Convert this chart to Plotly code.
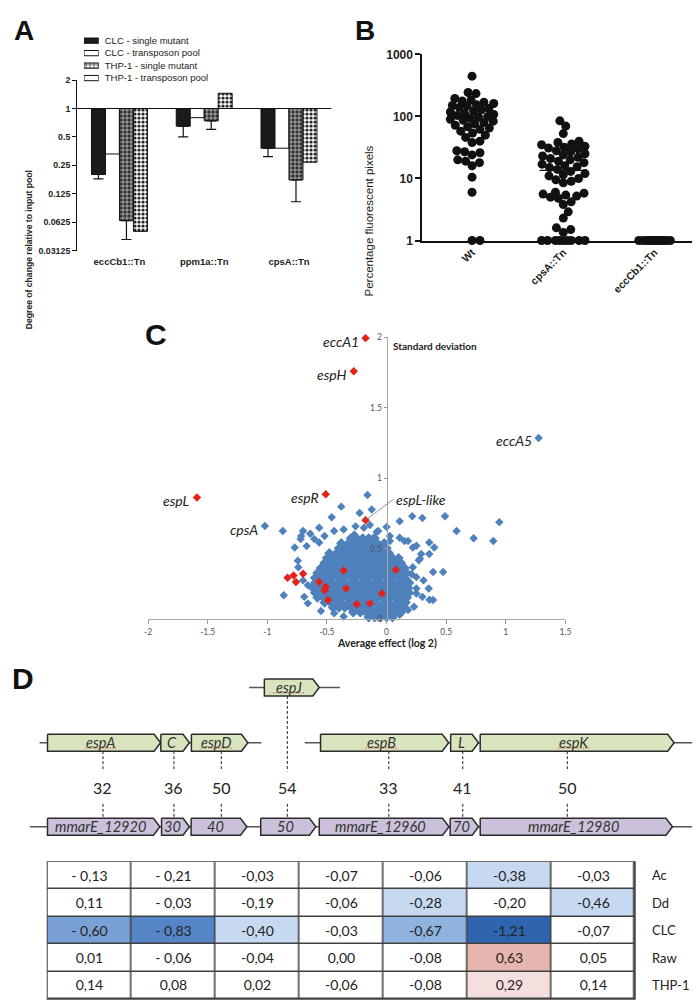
import math
import plotly.graph_objects as go

W, H = 700, 1002
def fx(px): return px / W
def fy(py): return 1 - py / H

ARIAL = "Liberation Sans, Arial, sans-serif"
CAL = "Lato, Open Sans, sans-serif"

# ---------------- Panel A data ----------------
a_categories = ["eccCb1::Tn", "ppm1a::Tn", "cpsA::Tn"]
a_series = ["CLC - single mutant", "CLC - transposon pool",
            "THP-1 - single mutant", "THP-1 - transposon pool"]
clc_single = [0.20, 0.65, 0.38]
clc_single_low = [0.18, 0.50, 0.31]
clc_pool = [0.33, 0.80, 0.38]
thp_single = [0.065, 0.74, 0.175]
thp_single_low = [0.041, 0.60, 0.103]
thp_pool = [0.05, 1.45, 0.27]
a_ticks = [0.03125, 0.0625, 0.125, 0.25, 0.5, 1, 2]
a_ticktext = ["0.03125", "0.0625", "0.125", "0.25", "0.5", "1", "2"]

# ---------------- Panel B data ----------------
b_categories = ["Wt", "cpsA::Tn", "eccCb1::Tn"]
wt_vals = [447, 243, 234, 195, 185, 178, 170, 162, 155, 150, 148, 140, 135, 128, 122,
           118, 112, 108, 104, 100, 97, 94, 90, 87, 84, 80, 76, 72, 68, 65, 62, 58, 54,
           50, 46, 40, 38, 28, 27, 26, 24, 20, 19, 18, 16, 10.5, 6, 1, 1]
cps_vals = [85, 70, 53, 40, 38, 36, 35, 33, 32, 31, 30, 28, 27, 25, 24, 23, 22, 21, 20,
            19, 18, 17, 16, 15.5, 15, 14, 13, 12, 11.5, 11, 10, 9.5, 9, 8.5,
            6, 5.8, 5.6, 5.4, 5.2, 5, 4.8, 4.2, 3.8, 2.9, 2.3, 1.6, 1.5, 1.35,
            1, 1, 1, 1, 1, 1, 1, 1, 1]
ecc_vals = [1] * 14
b_means = [100, 13.5]
b_ticks = [1, 10, 100, 1000]

# ---------------- Panel C data ----------------
c_xticks = [-2, -1.5, -1, -0.5, 0, 0.5, 1, 1.5]
c_yticks = [0, 0.5, 1, 1.5, 2]
# dense core of the cloud, read row by row (y, x values)
blue_rows = [
    (0.015, [-0.15, -0.10, -0.05, 0.00, 0.05]),
    (0.05, [-0.28, -0.22, -0.17, -0.12, -0.08, -0.02, 0.03, 0.07, 0.12]),
    (0.085, [-0.45, -0.40, -0.35, -0.30, -0.25, -0.20, -0.15, -0.10, -0.05, 0.00, 0.05, 0.10, 0.15]),
    (0.12, [-0.52, -0.47, -0.43, -0.38, -0.32, -0.28, -0.22, -0.18, -0.12, -0.08, -0.02, 0.02, 0.08, 0.12, 0.16]),
    (0.155, [-0.58, -0.53, -0.48, -0.43, -0.38, -0.33, -0.28, -0.23, -0.18, -0.13, -0.08, -0.03, 0.02, 0.07, 0.12, 0.17]),
    (0.19, [-0.60, -0.55, -0.50, -0.46, -0.40, -0.36, -0.30, -0.26, -0.20, -0.16, -0.10, -0.06, 0.00, 0.04, 0.10, 0.14, 0.19]),
    (0.225, [-0.62, -0.57, -0.52, -0.47, -0.42, -0.37, -0.32, -0.27, -0.22, -0.17, -0.12, -0.07, -0.02, 0.03, 0.08, 0.13, 0.18]),
    (0.26, [-0.60, -0.55, -0.50, -0.46, -0.40, -0.36, -0.30, -0.26, -0.20, -0.16, -0.10, -0.06, 0.00, 0.04, 0.10, 0.14, 0.19]),
    (0.295, [-0.60, -0.55, -0.50, -0.45, -0.40, -0.35, -0.30, -0.25, -0.20, -0.15, -0.10, -0.05, 0.00, 0.05, 0.10, 0.15]),
    (0.33, [-0.58, -0.52, -0.48, -0.42, -0.38, -0.32, -0.28, -0.22, -0.18, -0.12, -0.08, -0.02, 0.02, 0.08, 0.12, 0.17]),
    (0.365, [-0.55, -0.50, -0.45, -0.40, -0.35, -0.30, -0.25, -0.20, -0.15, -0.10, -0.05, 0.00, 0.05, 0.10, 0.15]),
    (0.40, [-0.52, -0.48, -0.42, -0.38, -0.32, -0.28, -0.22, -0.18, -0.12, -0.08, -0.02, 0.02, 0.08, 0.12]),
    (0.435, [-0.50, -0.45, -0.40, -0.35, -0.30, -0.25, -0.20, -0.15, -0.10, -0.05, 0.00, 0.05, 0.10]),
    (0.47, [-0.48, -0.42, -0.38, -0.32, -0.28, -0.22, -0.18, -0.12, -0.08, -0.02, 0.02]),
    (0.505, [-0.40, -0.35, -0.30, -0.25, -0.20, -0.15, -0.10, -0.05, 0.00]),
    (0.54, [-0.38, -0.32, -0.28, -0.22, -0.18, -0.12, -0.08, -0.02]),
    (0.575, [-0.30, -0.25, -0.20, -0.15, -0.10]),
]
blue_fringe = [
    (-0.87, 0.627), (-0.16, 0.883), (-0.38, 0.80), (-0.124, 0.78), (-0.46, 0.725), (-0.226, 0.755),
    (0.215, 0.732), (0.49, 0.732), (0.945, 0.69), (0.587, 0.627), (0.73, 0.576), (0.895, 0.557),
    (0.358, 0.545), (0.29, 0.464), (0.358, 0.464), (0.474, 0.336), (0.39, 0.336), (0.353, 0.219),
    (0.39, 0.138), (0.027, 0.592), (0.0, 0.655), (-0.565, 0.65), (-0.64, 0.608), (-0.716, 0.592),
    (-0.862, 0.172), (-0.744, 0.417), (-0.70, 0.627), (-0.77, 0.51), (-0.72, 0.57), (-0.67, 0.52),
    (-0.606, 0.57), (-0.565, 0.545), (-0.52, 0.592), (-0.44, 0.627), (-0.36, 0.638), (-0.27, 0.603),
    (-0.19, 0.65), (-0.11, 0.58), (-0.07, 0.627), (0.028, 0.557), (0.11, 0.58), (0.18, 0.557),
    (0.25, 0.522), (0.30, 0.72), (0.22, 0.37), (0.28, 0.43), (0.25, 0.30), (0.25, 0.184),
    (0.18, 0.067), (-0.69, 0.16), (-0.66, 0.114), (-0.70, 0.277), (-0.66, 0.243), (-0.74, 0.37),
    (-0.55, 0.06), (-0.44, 0.044), (-0.36, 0.021), (0.11, 0.033), (0.11, 0.697), (0.15, 0.557),
    (0.22, 0.51), (0.27, 0.42), (0.21, 0.32), (0.31, 0.277), (0.25, 0.22), (0.30, 0.16),
    (0.23, 0.09), (0.36, 0.14), (0.40, 0.51), (-0.14, 0.67), (-0.083, 0.62), (-0.26, 0.66),
]
red_x = [-0.83, -0.78, -0.76, -0.70, -0.565, -0.51, -0.52, -0.49, -0.36, -0.34, -0.25, -0.14, -0.04, 0.077]
red_y = [0.296, 0.312, 0.266, 0.324, 0.266, 0.231, 0.207, 0.138, 0.347, 0.219, 0.107, 0.114, 0.184, 0.352]
named_text = ["eccA1", "espH", "espL", "espR", "espL-like", "cpsA", "eccA5"]
named_x = [-0.176, -0.275, -1.59, -0.51, -0.176, -1.02, 1.275]
named_y = [1.995, 1.76, 0.865, 0.888, 0.704, 0.662, 1.287]
named_red = [True, True, True, True, True, False, False]

# ---------------- Panel D data ----------------
contig_row = ["J", "top", "top", "bottom"]
contig_start = [240.7, 28, 297, 18]
contig_end = [332.7, 253, 697, 693]
gene_name = ["espJ", "espA", "C", "espD", "espB", "L", "espK",
             "mmarE_12920", "30", "40", "50", "mmarE_12960", "70", "mmarE_12980"]
gene_row = ["J", "top", "top", "top", "top", "top", "top",
            "bottom", "bottom", "bottom", "bottom", "bottom", "bottom", "bottom"]
gene_start = [256, 36, 151, 182, 313, 445, 475, 36, 151.7, 181.7, 252.3, 311.7, 444.5, 475]
gene_end = [311.7, 150.7, 180, 239.3, 443, 473.3, 671.7, 150, 180, 238.3, 308.3, 443.3, 473.3, 670]
spellcheck_marked = ["espJ", "espA", "espD", "espB", "espK"]
count_values = [32, 36, 50, 54, 33, 41, 50]
count_pos = [92.3, 164.3, 212.3, 279.3, 382.3, 457.3, 563.3]
count_from = ["top", "top", "top", "J", "top", "top", "top"]

table_rows = ["Ac", "Dd", "CLC", "Raw", "THP-1"]
table_text = [
    ["- 0,13", "- 0,21", "-0,03", "-0,07", "-0,06", "-0,38", "-0,03"],
    ["0,11", "- 0,03", "-0,19", "-0,06", "-0,28", "-0,20", "-0,46"],
    ["- 0,60", "- 0,83", "-0,40", "-0,03", "-0,67", "-1,21", "-0,07"],
    ["0,01", "- 0,06", "-0,04", "0,00", "-0,08", "0,63", "0,05"],
    ["0,14", "0,08", "0,02", "-0,06", "-0,08", "0,29", "0,14"],
]
table_shade = [
    [0, 0, 0, 0, 0, 1, 0],
    [0, 0, 0, 0, 1, 0, 1],
    [3, 4, 1, 0, 2, 5, 0],
    [0, 0, 0, 0, 0, 6, 0],
    [0, 0, 0, 0, 0, 7, 0],
]

fig = go.Figure()

# ================= Panel A =================
a_styles = [
    dict(color="#1b1b1b", pshape="", fg="#1b1b1b", bg="#1b1b1b", sol=0.3),
    dict(color="white", pshape="", fg="white", bg="white", sol=0.3),
    dict(color="#2a2a2a", pshape="+", fg="#cfcfcf", bg="#2a2a2a", sol=0.35),
    dict(color="white", pshape=".", fg="#1e1e1e", bg="white", sol=0.5),
]
a_vals = [clc_single, clc_pool, thp_single, thp_pool]
a_lows = [clc_single_low, None, thp_single_low, None]
for name, vals, low, st in zip(a_series, a_vals, a_lows, a_styles):
    err = None
    if low is not None:
        err = dict(type="data", symmetric=False, array=[0] * len(vals),
                   arrayminus=[v - l for v, l in zip(vals, low)],
                   color="#111", thickness=1.2, width=5)
    marker = dict(color=st["color"], line=dict(color="#111", width=1))
    if st["pshape"]:
        marker["pattern"] = dict(shape=st["pshape"], fgcolor=st["fg"], bgcolor=st["bg"],
                                 size=4, solidity=st["sol"], fillmode="replace")
    fig.add_trace(go.Bar(x=a_categories, y=[v - 1 for v in vals], base=1, name=name,
                         marker=marker, error_y=err, xaxis="x", yaxis="y",
                         showlegend=False, hoverinfo="skip"))

# legend as a tiny bar axis
fig.add_trace(go.Bar(
    y=a_series, x=[1] * len(a_series), orientation="h", xaxis="x2", yaxis="y2", width=0.42,
    marker=dict(color=[s["color"] for s in a_styles], line=dict(color="#111", width=1),
                pattern=dict(shape=[s["pshape"] for s in a_styles],
                             fgcolor=[s["fg"] for s in a_styles],
                             bgcolor=[s["bg"] for s in a_styles],
                             solidity=[s["sol"] for s in a_styles],
                             size=4, fillmode="replace")),
    showlegend=False, hoverinfo="skip"))

# ================= Panel B =================
PX_X = (700 - 416) / (2.52 + 0.548)
PX_DEC = (228.7 - 40) / 3.0

def swarm(values, d=8.0, maxw=22.0):
    order = sorted(range(len(values)), key=lambda i: values[i])
    cand = [0.0]
    k = 1
    while k * 0.5 <= maxw:
        cand += [k * 0.5, -k * 0.5]
        k += 1
    placed = []
    offs = [0.0] * len(values)
    for i in order:
        ypx = math.log10(values[i]) * PX_DEC
        chosen, best_c, best_md = None, 0.0, -1
        for c in cand:
            md = min([math.hypot(c - px, ypx - py) for px, py in placed] or [1e9])
            if md >= d:
                chosen = c
                break
            if md > best_md:
                best_md, best_c = md, c
        if chosen is None:
            chosen = best_c
        placed.append((chosen, ypx))
        offs[i] = chosen / PX_X
    return offs

for gi, (vals, mw) in enumerate([(wt_vals, 22), (cps_vals, 22), (ecc_vals, 18)]):
    offs = swarm(vals, maxw=mw)
    fig.add_trace(go.Scatter(x=[gi + o for o in offs], y=vals, mode="markers",
                             marker=dict(size=9, color="#111"), xaxis="x3", yaxis="y3",
                             cliponaxis=False, showlegend=False, hoverinfo="skip"))
for gi, m in enumerate(b_means):
    fig.add_trace(go.Scatter(x=[gi - 0.26, gi + 0.26], y=[m, m], mode="lines",
                             line=dict(color="#111", width=1.2), xaxis="x3", yaxis="y3",
                             showlegend=False, hoverinfo="skip"))

# ================= Panel C =================
BLUE = "#4f81bd"
RED = "#e2231a"
cx, cy = [], []
for yv, xs in blue_rows:
    for xv in xs:
        cx.append(xv)
        cy.append(yv)
fig.add_trace(go.Scatter(x=cx, y=cy, mode="markers", xaxis="x4", yaxis="y4",
                         marker=dict(symbol="diamond", size=8, color=BLUE),
                         cliponaxis=False, showlegend=False, hoverinfo="skip"))
bx = [p[0] for p in blue_fringe] + [xv for xv, r in zip(named_x, named_red) if not r]
by = [p[1] for p in blue_fringe] + [yv for yv, r in zip(named_y, named_red) if not r]
fig.add_trace(go.Scatter(x=bx, y=by, mode="markers", xaxis="x4", yaxis="y4",
                         marker=dict(symbol="diamond", size=6.5, color=BLUE),
                         cliponaxis=False, showlegend=False, hoverinfo="skip"))
rx = red_x + [xv for xv, r in zip(named_x, named_red) if r]
ry = red_y + [yv for yv, r in zip(named_y, named_red) if r]
fig.add_trace(go.Scatter(x=rx, y=ry, mode="markers", xaxis="x4", yaxis="y4",
                         marker=dict(symbol="diamond", size=6.5, color=RED),
                         cliponaxis=False, showlegend=False, hoverinfo="skip"))

# ================= Panel D: gene map =================
ROW_Y = {"J": 682, "top": 738, "bottom": 823.3}
HALF = 8.6
TIP = 6.5
FILL = {"J": "#d7e4bd", "top": "#d7e4bd", "bottom": "#ccc1da"}

for r, s, e in zip(contig_row, contig_start, contig_end):
    fig.add_trace(go.Scatter(x=[s, e], y=[ROW_Y[r], ROW_Y[r]], mode="lines",
                             line=dict(color="#555", width=1.5), xaxis="x5", yaxis="y5",
                             showlegend=False, hoverinfo="skip"))
for n, r, s, e in zip(gene_name, gene_row, gene_start, gene_end):
    yc = ROW_Y[r]
    fig.add_trace(go.Scatter(
        x=[s, e - TIP, e, e - TIP, s, s],
        y=[yc - HALF, yc - HALF, yc, yc + HALF, yc + HALF, yc - HALF],
        mode="lines", fill="toself", fillcolor=FILL[r],
        line=dict(color="#2b2b2b", width=1.5), xaxis="x5", yaxis="y5",
        showlegend=False, hoverinfo="skip"))
    if n in spellcheck_marked:
        cxm = (s + e - TIP) / 2
        half_w = 4.0 * len(n)
        fig.add_trace(go.Scatter(x=[cxm - half_w, cxm + half_w], y=[yc + 5.5, yc + 5.5],
                                 mode="lines", line=dict(color="#e03020", width=1, dash="1px,1.5px"),
                                 xaxis="x5", yaxis="y5", showlegend=False, hoverinfo="skip"))
for v, p, f in zip(count_values, count_pos, count_from):
    for y0, y1 in [(ROW_Y[f] + HALF, 767), (800, ROW_Y["bottom"] - HALF)]:
        fig.add_trace(go.Scatter(x=[p, p], y=[y0, y1], mode="lines",
                                 line=dict(color="#222", width=1, dash="3px,2px"),
                                 xaxis="x5", yaxis="y5", showlegend=False, hoverinfo="skip"))

# ================= Panel D: table =================
shade_colors = ["#ffffff", "#c6d9f1", "#8fb2df", "#79a1d6", "#5585c6", "#2f64ae", "#e6b5af", "#f4dfde"]
nsh = len(shade_colors)
cs = []
for i, c in enumerate(shade_colors):
    cs += [[i / nsh, c], [(i + 1) / nsh, c]]
fig.add_trace(go.Heatmap(
    x=list(range(len(table_text[0]))), y=table_rows, z=table_shade, text=table_text,
    texttemplate="%{text}", textfont=dict(size=14, family=CAL, color="#222"),
    colorscale=cs, zmin=-0.5, zmax=nsh - 0.5, showscale=False, xgap=1.5, ygap=1.5,
    xaxis="x6", yaxis="y6", hoverinfo="skip"))

# ================= annotations =================
ann = []
def letter(t, x, y, size):
    ann.append(dict(text=t, x=fx(x), y=fy(y), xref="paper", yref="paper", showarrow=False,
                    xanchor="center", yanchor="middle", borderpad=0,
                    font=dict(family=ARIAL, size=size, color="#111", weight="bold")))
letter("A", 12, 16, 28)
letter("B", 358, 16, 28)
letter("C", 146, 324, 30)
letter("D", 11, 673, 30)

ann.append(dict(text="Degree of change relative to input pool", x=fx(10), y=fy(155),
                xref="paper", yref="paper", showarrow=False, textangle=-90,
                font=dict(family=ARIAL, size=8.6, color="#222", weight="bold")))
ann.append(dict(text="Percentage fluorescent pixels", x=fx(362), y=fy(130),
                xref="paper", yref="paper", showarrow=False, textangle=-90,
                font=dict(family=ARIAL, size=11.5, color="#222")))
ann.append(dict(text="Average effect (log 2)", x=fx(380), y=fy(637),
                xref="paper", yref="paper", showarrow=False,
                font=dict(family=CAL, size=10.5, color="#222", weight="bold")))
ann.append(dict(text="Standard deviation", x=0.04, y=1.94, xref="x4", yref="y4",
                showarrow=False, xanchor="left", yanchor="middle",
                font=dict(family=CAL, size=10, color="#222", weight="bold")))
for t, xv, yv in zip(named_text, named_x, named_y):
    f = dict(family=CAL, size=14, color="#222", style="italic")
    if t == "espL-like":
        ann.append(dict(text=t, x=xv, y=yv, xref="x4", yref="y4", showarrow=True,
                        arrowhead=0, arrowwidth=0.8, arrowcolor="#777", ax=28, ay=-21,
                        xanchor="left", yanchor="middle", font=f))
    else:
        ann.append(dict(text=t, x=xv, y=yv, xref="x4", yref="y4", showarrow=False,
                        xanchor="right", yanchor="middle", xshift=-5, yshift=-3, font=f))
for n, r, s, e in zip(gene_name, gene_row, gene_start, gene_end):
    ann.append(dict(text=n, x=(s + e - TIP) / 2, y=ROW_Y[r], xref="x5", yref="y5",
                    showarrow=False, xanchor="center", yanchor="middle",
                    font=dict(family=CAL, size=14.5, color="#333", style="italic")))
for v, p in zip(count_values, count_pos):
    ann.append(dict(text=str(v), x=p, y=783, xref="x5", yref="y5", showarrow=False,
                    font=dict(family=CAL, size=16, color="#222")))

shapes = [
    dict(type="line", xref="x domain", yref="y", x0=0, x1=1, y0=1, y1=1,
         line=dict(color="#111", width=1.2)),
    dict(type="rect", xref="x6 domain", yref="y6 domain", x0=0, x1=1, y0=0, y1=1,
         fillcolor="#404040", line=dict(color="#404040", width=1.5), layer="below"),
]

noax = dict(visible=False, showgrid=False, zeroline=False)
fig.update_layout(
    width=W, height=H, margin=dict(l=0, r=0, t=0, b=0),
    paper_bgcolor="white", plot_bgcolor="white",
    barmode="group", bargap=0.34, bargroupgap=0, showlegend=False,
    font=dict(family=ARIAL, color="#222"),
    annotations=ann, shapes=shapes,
    xaxis=dict(domain=[fx(66), fx(324)], anchor="y", type="category", showline=False,
               ticks="", showgrid=False, zeroline=False, ticklabelstandoff=4,
               tickfont=dict(family=ARIAL, size=9.5, color="#222", weight="bold")),
    yaxis=dict(domain=[fy(239), fy(66)], anchor="x", type="log",
               range=[math.log10(0.03125), math.log10(2)], tickvals=a_ticks, ticktext=a_ticktext,
               ticks="outside", ticklen=4, tickcolor="#111", showline=True, linecolor="#111",
               linewidth=1, showgrid=False, zeroline=False,
               tickfont=dict(family=ARIAL, size=8.8, color="#222", weight="bold")),
    xaxis2=dict(domain=[fx(73), fx(88)], anchor="y2", range=[0, 1], **noax),
    yaxis2=dict(domain=[fy(70.3), fy(19.7)], anchor="x2", type="category", autorange="reversed",
                side="right", ticks="", showline=False, showgrid=False, zeroline=False,
                ticklabelstandoff=5, tickfont=dict(family=ARIAL, size=9.5, color="#222")),
    xaxis3=dict(domain=[fx(416), 1], anchor="y3", range=[-0.548, 2.52], tickvals=[0, 1, 2],
                ticktext=b_categories, tickangle=-45, showline=True, linecolor="#111",
                linewidth=1.5, ticks="", showgrid=False, zeroline=False,
                tickfont=dict(family=ARIAL, size=10.5, color="#222", weight="bold")),
    yaxis3=dict(domain=[fy(228.7), fy(40)], anchor="x3", type="log", range=[0, 3],
                tickvals=b_ticks, ticktext=[str(t) for t in b_ticks], ticks="outside", ticklen=5,
                tickwidth=1.5, tickcolor="#111", showline=True, linecolor="#111", linewidth=1.5,
                showgrid=False, zeroline=False,
                tickfont=dict(family=ARIAL, size=12, color="#222", weight="bold")),
    xaxis4=dict(domain=[fx(138), fx(561.5)], anchor="y4", range=[-2, 1.5], tickvals=c_xticks,
                ticktext=[f"{t:g}" for t in c_xticks], ticks="outside", ticklen=4,
                tickcolor="#9a9a9a", showline=True, linecolor="#a6a6a6", linewidth=1,
                showgrid=False, zeroline=False,
                tickfont=dict(family=CAL, size=8.5, color="#555")),
    yaxis4=dict(domain=[fy(613), fy(327)], anchor="free", position=fx(380), range=[0, 2],
                tickvals=c_yticks, ticktext=[f"{t:g}" for t in c_yticks], ticks="outside",
                ticklen=3, tickcolor="#9a9a9a", showline=True, linecolor="#a6a6a6", linewidth=1,
                showgrid=False, zeroline=False,
                tickfont=dict(family=CAL, size=8.5, color="#555")),
    xaxis5=dict(domain=[0, 1], anchor="y5", range=[0, 700], **noax),
    yaxis5=dict(domain=[fy(845), fy(655)], anchor="x5", range=[845, 655], **noax),
    xaxis6=dict(domain=[fx(36), fx(632)], anchor="y6", range=[-0.5, 6.5], **noax),
    yaxis6=dict(domain=[fy(998), fy(859)], anchor="x6", type="category", autorange="reversed",
                side="right", ticks="", showline=False, showgrid=False, zeroline=False,
                ticklabelstandoff=16, tickfont=dict(family=CAL, size=13, color="#222")),
)

fig.write_html("out.html")
